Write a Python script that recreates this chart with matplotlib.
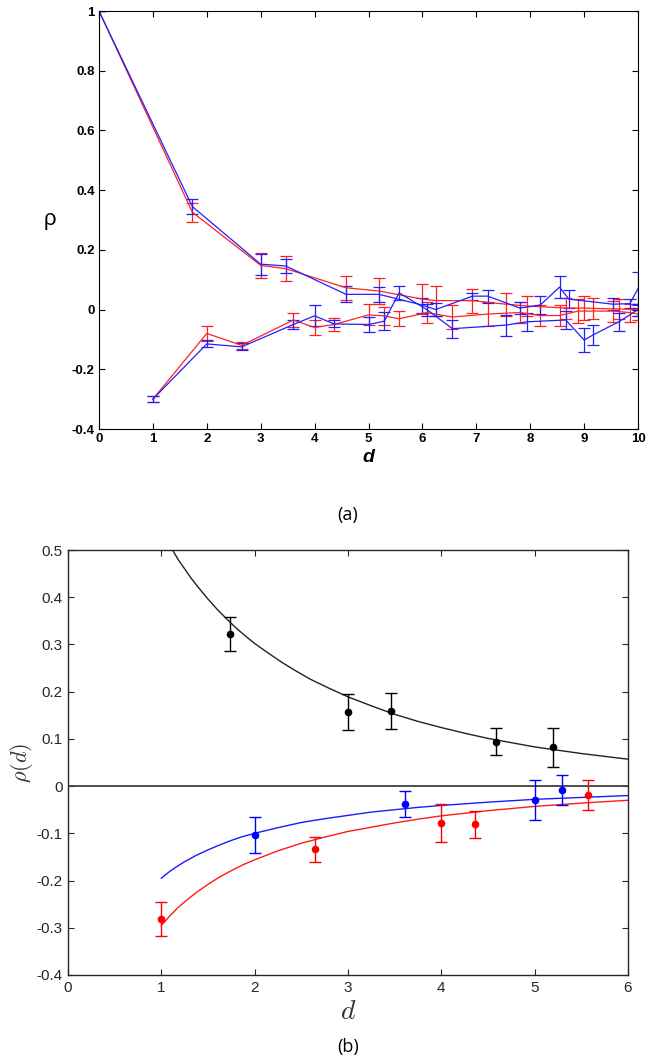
import numpy as np
import matplotlib
matplotlib.use("Agg")
import matplotlib.pyplot as plt

plt.rcParams['mathtext.fontset'] = 'cm'

# ---- panel (a): correlation vs distance, two data sets ----
blue_up_x = [0, 1.732, 3.0, 3.464, 4.583, 5.196, 6.0, 6.245, 6.928, 7.211, 7.81, 8.185, 8.544, 8.718, 9.539, 9.849, 10.0]
blue_up_y = [1.0, 0.345, 0.152, 0.146, 0.051, 0.051, 0.015, 0.0, 0.045, 0.045, 0.005, 0.015, 0.075, 0.035, 0.018, 0.02, 0.07]
blue_up_e = [0, 0.025, 0.035, 0.022, 0.027, 0.025, 0.025, 0.022, 0.012, 0.022, 0.02, 0.03, 0.036, 0.03, 0.02, 0.015, 0.055]

blue_lo_x = [1, 2, 2.646, 3.606, 4, 4.359, 5, 5.292, 5.568, 6.083, 6.557, 7.55, 7.937, 8.66, 9.0, 9.165, 9.644, 10.0]
blue_lo_y = [-0.30, -0.115, -0.125, -0.05, -0.021, -0.048, -0.05, -0.039, 0.056, 0.0, -0.064, -0.052, -0.041, -0.035, -0.102, -0.085, -0.041, 0.0]
blue_lo_e = [0.01, 0.012, 0.012, 0.015, 0.035, 0.012, 0.024, 0.03, 0.024, 0.02, 0.03, 0.035, 0.03, 0.03, 0.04, 0.033, 0.03, 0.02]

red_up_x = [0, 1.732, 3.0, 3.464, 4.583, 5.196, 6.0, 6.245, 6.928, 7.55, 7.937, 8.66, 9.0, 9.165, 9.644, 10.0]
red_up_y = [1.0, 0.326, 0.148, 0.137, 0.073, 0.062, 0.035, 0.03, 0.03, 0.018, 0.012, 0.005, 0.005, 0.004, 0.002, 0.0]
red_up_e = [0, 0.032, 0.042, 0.042, 0.04, 0.045, 0.05, 0.05, 0.04, 0.038, 0.035, 0.035, 0.04, 0.035, 0.035, 0.02]

red_lo_x = [1, 2, 2.646, 3.606, 4, 4.359, 5, 5.292, 5.568, 6.083, 6.557, 7.211, 7.81, 8.185, 8.544, 8.888, 9.539, 9.849, 10.0]
red_lo_y = [-0.30, -0.08, -0.12, -0.035, -0.06, -0.05, -0.018, -0.021, -0.031, -0.01, -0.025, -0.015, -0.01, -0.02, -0.02, -0.005, -0.005, -0.01, -0.015]
red_lo_e = [0.01, 0.025, 0.012, 0.022, 0.025, 0.022, 0.035, 0.03, 0.025, 0.035, 0.04, 0.04, 0.035, 0.035, 0.035, 0.04, 0.035, 0.03, 0.02]

# ---- panel (b): sublattice points and fits ----
blk_x = [1.732, 3.0, 3.464, 4.583, 5.196]
blk_y = [0.322, 0.157, 0.159, 0.094, 0.082]
blk_e = [0.036, 0.038, 0.039, 0.029, 0.041]

blu_x = [2.0, 3.606, 5.0, 5.292]
blu_y = [-0.103, -0.038, -0.030, -0.008]
blu_e = [0.038, 0.028, 0.042, 0.031]

red_x = [1.0, 2.646, 4.0, 4.359, 5.568]
red_y = [-0.282, -0.134, -0.078, -0.081, -0.019]
red_e = [0.036, 0.027, 0.040, 0.029, 0.031]

fit_blk_x = [1.12, 1.18, 1.25, 1.32, 1.4, 1.5, 1.6, 1.7, 1.8, 1.9, 2.0, 2.15, 2.3, 2.45, 2.6, 2.8, 3.0, 3.25,
             3.5, 3.75, 4.0, 4.25, 4.5, 4.75, 5.0, 5.25, 5.5, 5.75, 6.0]
fit_blk_y = [0.5, 0.480, 0.460, 0.440, 0.420, 0.396, 0.374, 0.354, 0.335, 0.318, 0.302, 0.281, 0.261, 0.243,
             0.226, 0.207, 0.189, 0.170, 0.152, 0.137, 0.124, 0.112, 0.101, 0.092, 0.083, 0.076, 0.069, 0.063, 0.057]

fit_x = [1.0, 1.05, 1.1, 1.17, 1.25, 1.37, 1.5, 1.62, 1.75, 1.87, 2.0, 2.25, 2.5, 2.75, 3.0, 3.25, 3.5, 3.75,
         4.0, 4.5, 5.0, 5.5, 6.0]
fit_blu_y = [-0.195, -0.187, -0.179, -0.170, -0.160, -0.147, -0.135, -0.125, -0.115, -0.107, -0.100, -0.088,
             -0.077, -0.069, -0.062, -0.055, -0.050, -0.045, -0.041, -0.034, -0.028, -0.024, -0.020]
fit_red_y = [-0.295, -0.284, -0.273, -0.259, -0.245, -0.226, -0.208, -0.193, -0.179, -0.167, -0.156, -0.137,
             -0.121, -0.108, -0.096, -0.087, -0.078, -0.070, -0.063, -0.052, -0.043, -0.036, -0.030]

W, H = 661, 1063
fig = plt.figure(figsize=(W / 100, H / 100), dpi=100)

def box(l, t, r, b):
    return [l / W, 1 - b / H, (r - l) / W, (b - t) / H]

# panel (a)
ax = fig.add_axes(box(99, 11, 638, 429))
for x, y, e, c in [(red_up_x, red_up_y, red_up_e, '#ff2020'), (red_lo_x, red_lo_y, red_lo_e, '#ff2020'),
                   (blue_up_x, blue_up_y, blue_up_e, '#2020ff'), (blue_lo_x, blue_lo_y, blue_lo_e, '#2020ff')]:
    ax.errorbar(x, y, yerr=e, color=c, lw=0.9, elinewidth=0.9, capsize=4.5, capthick=0.9)
ax.set_xlim(0, 10)
ax.set_ylim(-0.4, 1)
ax.set_xticks(range(0, 11))
ax.set_yticks([-0.4, -0.2, 0, 0.2, 0.4, 0.6, 0.8, 1])
ax.set_yticklabels(['-0.4', '-0.2', '0', '0.2', '0.4', '0.6', '0.8', '1'])
ax.tick_params(direction='in', top=True, right=True, length=4, width=0.8, labelsize=9.5, pad=3)
for lab in ax.get_xticklabels() + ax.get_yticklabels():
    lab.set_fontweight('bold')
    lab.set_family('Liberation Sans')
for s in ax.spines.values():
    s.set_linewidth(0.8)
ax.set_xlabel('d', fontsize=14, fontweight='bold', fontstyle='italic', family='Liberation Sans', labelpad=3)
ax.set_ylabel('ρ', fontsize=16, rotation=0, family='Liberation Sans', labelpad=16, va='center')
fig.text(348 / W, 1 - 515 / H, '(a)', fontsize=13, ha='center', va='center', family='Open Sans')

# panel (b)
bx = fig.add_axes(box(68, 550, 628, 975))
bx.axhline(0, color='#404040', lw=1.3)
bx.plot(fit_blk_x, fit_blk_y, color='#222222', lw=1)
bx.plot(fit_x, fit_blu_y, color='#1a1aff', lw=1)
bx.plot(fit_x, fit_red_y, color='#ff1a1a', lw=1)
bx.errorbar(blk_x, blk_y, yerr=blk_e, fmt='o', color='black', ms=4.5, capsize=4.5, elinewidth=1, capthick=1)
bx.errorbar(blu_x, blu_y, yerr=blu_e, fmt='o', color='#0000ff', ms=4.5, capsize=4.5, elinewidth=1, capthick=1)
bx.errorbar(red_x, red_y, yerr=red_e, fmt='o', color='#ff0000', ms=4.5, capsize=4.5, elinewidth=1, capthick=1)
bx.set_xlim(0, 6)
bx.set_ylim(-0.4, 0.5)
bx.set_xticks(range(0, 7))
bx.set_yticks([-0.4, -0.3, -0.2, -0.1, 0, 0.1, 0.2, 0.3, 0.4, 0.5])
bx.set_yticklabels(['-0.4', '-0.3', '-0.2', '-0.1', '0', '0.1', '0.2', '0.3', '0.4', '0.5'])
bx.tick_params(direction='in', top=True, right=True, length=4, width=0.8, labelsize=11,
               colors='#262626', pad=4)
for lab in bx.get_xticklabels() + bx.get_yticklabels():
    lab.set_family(['Liberation Sans Narrow', 'Liberation Sans'])
for s in bx.spines.values():
    s.set_linewidth(1)
    s.set_color('#262626')
bx.set_xlabel('$d$', fontsize=20, color='#333333', labelpad=2)
bx.set_ylabel(r'$\rho(d)$', fontsize=16, color='#333333', labelpad=1)
fig.text(348 / W, 1 - 1047 / H, '(b)', fontsize=13, ha='center', va='center', family='Open Sans')

fig.savefig('out.png', dpi=100)
